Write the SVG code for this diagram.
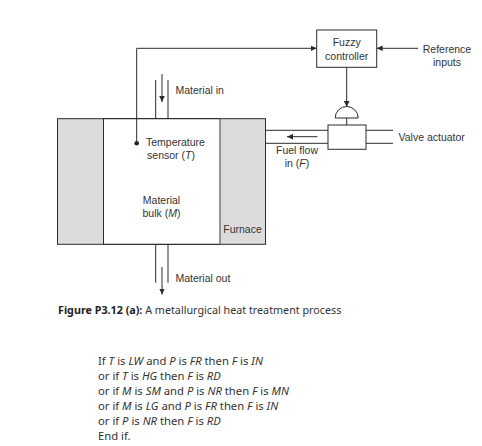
<svg xmlns="http://www.w3.org/2000/svg" width="482" height="446" viewBox="0 0 482 446">
<style>
.l{fill:none;stroke:#2b2b2b;stroke-width:1}
.a{fill:none;stroke:#2b2b2b;stroke-width:1;marker-end:url(#ah)}
.t{font-family:"Liberation Sans",Arial,sans-serif;font-size:10.5px;fill:#333}
.m{text-anchor:middle}
.c{font-family:"Noto Sans",sans-serif;font-size:10.75px;fill:#333}
.r{font-family:"Noto Sans",sans-serif;font-size:11.25px;fill:#333}
.i{font-style:italic}
</style>
<defs><marker id="ah" markerWidth="7" markerHeight="6" refX="6" refY="3" orient="auto" markerUnits="userSpaceOnUse"><path d="M0 0.2L6 3L0 5.8Z" fill="#2b2b2b"/></marker></defs>
<rect width="482" height="446" fill="#fff"/>
<g id="furnace">
<rect x="57.5" y="118.7" width="208" height="125.6" fill="#dcdcdc" stroke="#2b2b2b"/>
<rect x="103.5" y="119.2" width="116.5" height="124.6" fill="#fff"/>
<path class="l" d="M103.5 118.7V244.3"/>
<path d="M220 118.700V244.300" fill="none" stroke="#777" stroke-width="1.5"/>
<path class="l" d="M103.5 118.7H220M103.5 244.3H220"/>
<text class="t m" x="242.500" y="232.500">Furnace</text>
</g>
<g id="sensor">
<circle cx="136.700" cy="143.300" r="2.300" fill="#222"/>
<text class="t m" x="175.500" y="145.500">Temperature</text>
<text class="t m" x="171" y="158.800">sensor (<tspan class="i">T</tspan>)</text>
</g>
<g id="bulk">
<text class="t m" x="161.500" y="203.800">Material</text>
<text class="t m" x="161.500" y="217.300">bulk (<tspan class="i">M</tspan>)</text>
</g>
<g id="controller">
<rect x="316.700" y="30" width="60" height="37.300" fill="#fff" stroke="#2b2b2b"/>
<text class="t m" x="346.700" y="46.200">Fuzzy</text>
<text class="t m" x="346.700" y="59.500">controller</text>
</g>
<g id="valve">
<path d="M335.200 118A11.500 11.500 0 0 1 358.200 118Z" fill="#fff" stroke="#2b2b2b"/>
<path class="l" d="M346.700 118V125"/>
<rect x="328" y="125" width="38" height="24.300" fill="#fff" stroke="#2b2b2b"/>
<text class="t" x="398.500" y="140.700">Valve actuator</text>
</g>
<g id="labels">
<text class="t" x="175.500" y="93.700">Material in</text>
<text class="t" x="175.500" y="281.500">Material out</text>
<text class="t m" x="297" y="154">Fuel flow</text>
<text class="t m" x="297" y="167.300">in (<tspan class="i">F</tspan>)</text>
<text class="t m" x="447" y="52.500">Reference</text>
<text class="t m" x="447" y="65.800">inputs</text>
</g>
<g id="connectors">
<path class="a" d="M136.700 143.300V48.300H316.700"/>
<path class="a" d="M418 48.300H376.700"/>
<path class="a" d="M346.700 67.300V107"/>
<path class="l" d="M265.700 130.300H328M265.700 143.300H328M366 130.300H393M366 143.300H393"/>
<path class="a" d="M317.500 136.700H287"/>
<path class="l" d="M155.700 80V118.700M168 80V118.700M155.700 244.300V282.700M168 244.300V282.700"/>
<path class="a" d="M162 74V102"/>
<path class="a" d="M162 267V294.500"/>
</g>
<g id="caption">
<text class="c" x="58" y="314"><tspan font-weight="700" fill="#222">Figure P3.12 (a):</tspan> A metallurgical heat treatment process</text>
</g>
<g id="rules">
<text class="r" x="98" y="365">If <tspan class="i">T</tspan> is <tspan class="i">LW</tspan> and <tspan class="i">P</tspan> is <tspan class="i">FR</tspan> then <tspan class="i">F</tspan> is <tspan class="i">IN</tspan></text>
<text class="r" x="98" y="380">or if <tspan class="i">T</tspan> is <tspan class="i">HG</tspan> then <tspan class="i">F</tspan> is <tspan class="i">RD</tspan></text>
<text class="r" x="98" y="395">or if <tspan class="i">M</tspan> is <tspan class="i">SM</tspan> and <tspan class="i">P</tspan> is <tspan class="i">NR</tspan> then <tspan class="i">F</tspan> is <tspan class="i">MN</tspan></text>
<text class="r" x="98" y="410">or if <tspan class="i">M</tspan> is <tspan class="i">LG</tspan> and <tspan class="i">P</tspan> is <tspan class="i">FR</tspan> then <tspan class="i">F</tspan> is <tspan class="i">IN</tspan></text>
<text class="r" x="98" y="425">or if <tspan class="i">P</tspan> is <tspan class="i">NR</tspan> then <tspan class="i">F</tspan> is <tspan class="i">RD</tspan></text>
<text class="r" x="98" y="440">End if.</text>
</g>
</svg>
